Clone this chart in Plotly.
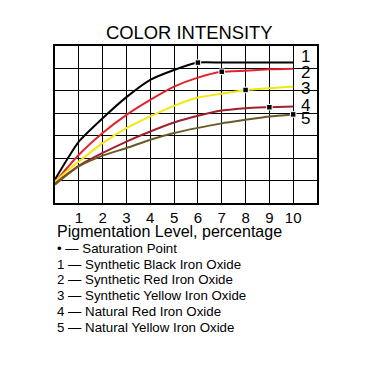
import plotly.graph_objects as go

x_vals = [0, 0.5, 1, 2, 3, 4, 5, 6, 7, 8, 9, 10]
black_vals = [1.05, 1.93, 2.74, 3.78, 4.72, 5.49, 5.93, 6.26, 6.26, 6.26, 6.26, 6.26]
red_vals = [0.92, 1.55, 2.15, 3.12, 3.93, 4.6, 5.19, 5.59, 5.85, 5.9, 5.96, 5.99]
yellow_vals = [0.95, 1.42, 1.85, 2.67, 3.34, 3.86, 4.33, 4.7, 4.87, 5.04, 5.12, 5.19]
darkred_vals = [0.86, 1.28, 1.66, 2.23, 2.74, 3.19, 3.59, 3.89, 4.12, 4.23, 4.27, 4.3]
brown_vals = [0.82, 1.25, 1.63, 2.11, 2.45, 2.82, 3.12, 3.35, 3.55, 3.71, 3.86, 3.95]
sat_x = [6, 7, 8, 9, 10]
series_names = ["1", "2", "3", "4", "5"]
colors = ["#000000", "#e3232a", "#f2e70f", "#a0202e", "#6b5a24"]
label_y = [6.55, 5.82, 5.1, 4.36, 3.77]
x_ticks = [1, 2, 3, 4, 5, 6, 7, 8, 9, 10]
legend_lines = [
    "• — Saturation Point",
    "1 — Synthetic Black Iron Oxide",
    "2 — Synthetic Red Iron Oxide",
    "3 — Synthetic Yellow Iron Oxide",
    "4 — Natural Red Iron Oxide",
    "5 — Natural Yellow Iron Oxide",
]

series = [black_vals, red_vals, yellow_vals, darkred_vals, brown_vals]
FONT = "Liberation Sans, Arial, sans-serif"

fig = go.Figure()
for name, vals, col in zip(series_names, series, colors):
    fig.add_trace(go.Scatter(x=x_vals, y=vals, mode="lines", name=name,
                             line=dict(color=col, width=2, shape="spline", smoothing=0.6),
                             hoverinfo="skip"))
# saturation points
for name, vals, sx in zip(series_names, series, sat_x):
    sy = vals[x_vals.index(sx)]
    fig.add_trace(go.Scatter(x=[sx], y=[sy], mode="markers",
                             marker=dict(symbol="square", size=5.5, color="#000000",
                                         line=dict(color="white", width=1)),
                             hoverinfo="skip"))

annotations = []
for name, ly in zip(series_names, label_y):
    annotations.append(dict(x=10.25, y=ly, xref="x", yref="y", text=name, showarrow=False,
                            xanchor="left", yanchor="middle",
                            font=dict(family=FONT, size=17, color="black")))

annotations.append(dict(x=0.515, y=1.083, xref="paper", yref="paper", text="COLOR INTENSITY",
                        showarrow=False, xanchor="center", yanchor="middle",
                        font=dict(family=FONT, size=18.4, color="black")))
annotations.append(dict(x=0.0, y=-0.18, xref="paper", yref="paper",
                        text="Pigmentation Level, percentage", showarrow=False,
                        xanchor="left", yanchor="middle",
                        font=dict(family=FONT, size=16, color="black")))
leg_y = [-0.29, -0.39, -0.49, -0.592, -0.694, -0.795]
for t, yy in zip(legend_lines, leg_y):
    annotations.append(dict(x=0.0, y=yy, xref="paper", yref="paper", text=t,
                            showarrow=False, xanchor="left", yanchor="middle",
                            font=dict(family=FONT, size=13.3, color="black")))

fig.update_layout(
    width=376, height=376,
    margin=dict(l=47, r=67, t=38, b=181),
    paper_bgcolor="white", plot_bgcolor="white",
    showlegend=False,
    annotations=annotations,
    xaxis=dict(range=[0, 11], tickvals=x_ticks, ticktext=[str(v) for v in x_ticks],
               showgrid=True, gridcolor="black", gridwidth=1, zeroline=False,
               showline=True, linecolor="black", linewidth=1.5, mirror=True,
               ticks="", tickfont=dict(family=FONT, size=15, color="black"),
               fixedrange=True),
    yaxis=dict(range=[0, 7], tickvals=[1, 2, 3, 4, 5, 6], showticklabels=False,
               showgrid=True, gridcolor="black", gridwidth=1, zeroline=False,
               showline=True, linecolor="black", linewidth=1.5, mirror=True,
               ticks="", fixedrange=True),
)

fig.write_html("out.html")
